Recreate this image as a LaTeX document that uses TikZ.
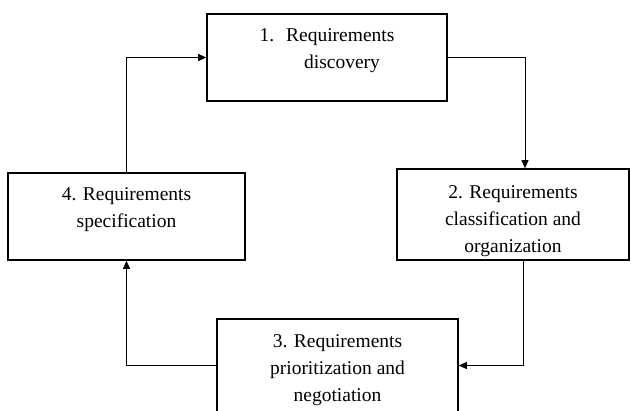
\documentclass[tikz,border=0pt]{standalone}
\usepackage{fontspec}
\setmainfont{Liberation Serif}
\usepackage{tikz}
\usetikzlibrary{arrows.meta, positioning, calc}

\tikzset{
  proc/.style={draw, line width=1.6pt, rectangle, align=center, inner sep=0pt,
    font=\fontsize{19.5}{27}\selectfont},
  flow/.style={line width=0.9pt, -{Triangle[length=8pt, width=7pt]}}
}

\begin{document}
\begin{tikzpicture}[x=1pt, y=-1pt]
  \clip (0,0) rectangle (631,410);

  % Steps
  \node[proc, minimum width=240pt, minimum height=87pt, text depth=18pt] (d1) at (327, 57.5) {
    1.\hspace{12pt}Requirements\\\hspace*{30pt}discovery
  };

  \node[proc, minimum width=232pt, minimum height=91pt] (d2) at (513, 214.5) {
    \rule{0pt}{26pt}2. Requirements\\classification and\\organization
  };

  \node[proc, minimum width=241pt, minimum height=93pt] (d3) at (337.5, 365.5) {
    \rule{0pt}{22pt}3. Requirements\\prioritization and\\negotiation
  };

  \node[proc, minimum width=237pt, minimum height=87pt, text depth=18pt] (d4) at (126.5, 216.5) {
    4. Requirements\\specification
  };

  % Cycle
  \draw[flow] (d1.east) -| ([xshift=12pt]d2.north);
  \draw[flow] ([xshift=10pt]d2.south) |- (d3.east);
  \draw[flow] (d3.west) -| (d4.south);
  \draw[flow] (d4.north) |- (d1.west);
\end{tikzpicture}
\end{document}
